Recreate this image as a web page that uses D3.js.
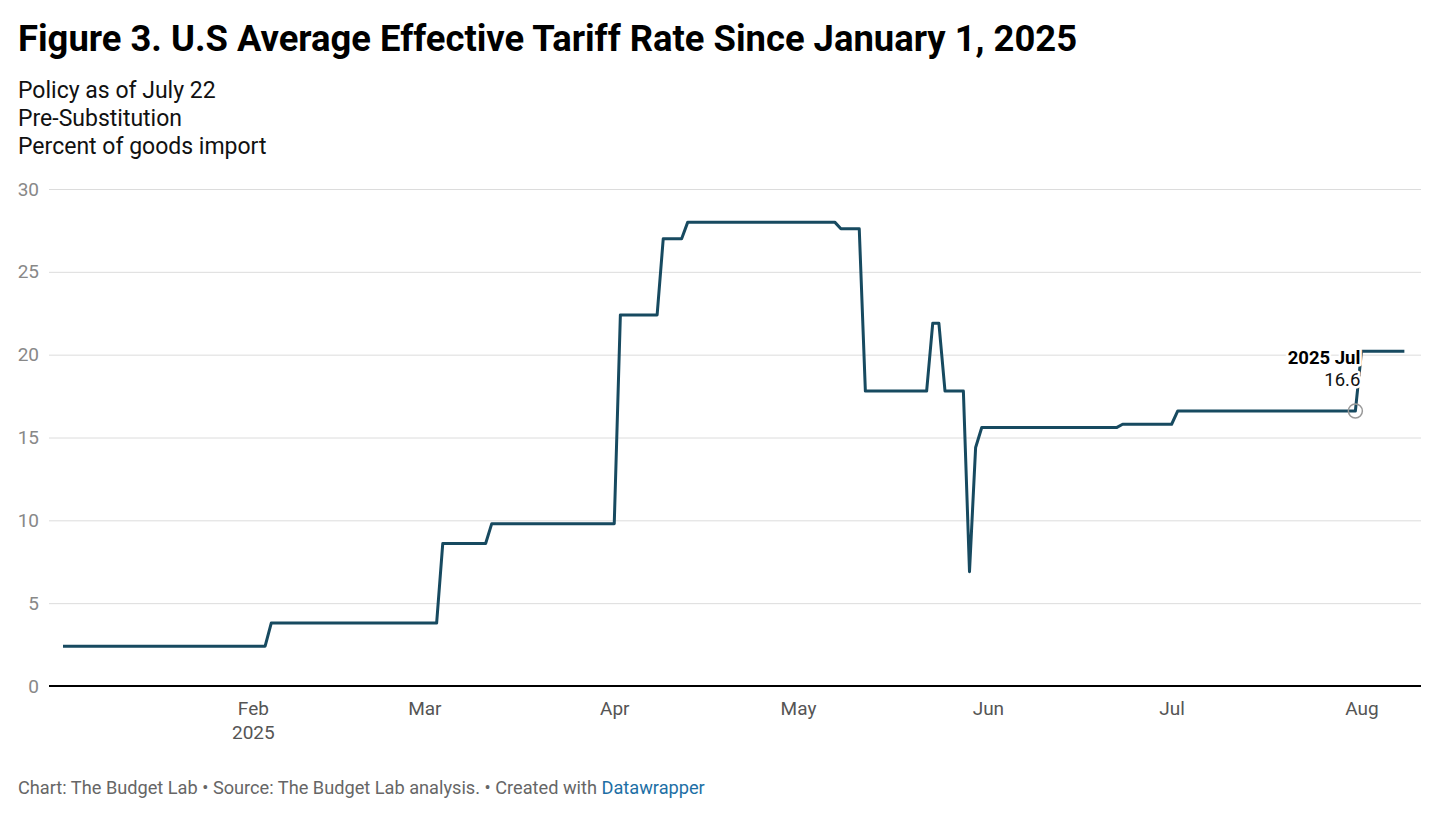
<!DOCTYPE html>
<html>
<head>
<meta charset="utf-8">
<script src="https://cdn.jsdelivr.net/npm/d3@7"></script>
<style>
  body { margin: 0; background: #fff; }
  svg { display: block; font-family: Roboto, "Noto Sans", sans-serif; }
</style>
</head>
<body>
<div id="chart"></div>
<script>
// breakpoints of the daily series (percent of goods imports)
var dates = ["2025-01-01", "2025-02-03", "2025-02-04", "2025-03-03", "2025-03-04", "2025-03-11", "2025-03-12",
  "2025-04-01", "2025-04-02", "2025-04-08", "2025-04-09", "2025-04-12", "2025-04-13", "2025-05-07", "2025-05-08",
  "2025-05-11", "2025-05-12", "2025-05-22", "2025-05-23", "2025-05-24", "2025-05-25", "2025-05-28", "2025-05-29",
  "2025-05-30", "2025-05-31", "2025-06-22", "2025-06-23", "2025-07-01", "2025-07-02", "2025-07-31", "2025-08-01",
  "2025-08-08"];
var rates = [2.4, 2.4, 3.8, 3.8, 8.6, 8.6, 9.8,
  9.8, 22.4, 22.4, 27.0, 27.0, 28.0, 28.0, 27.6,
  27.6, 17.8, 17.8, 21.9, 21.9, 17.8, 17.8, 6.9,
  14.4, 15.6, 15.6, 15.8, 15.8, 16.6, 16.6, 20.2,
  20.2];

var yTicks = [0, 5, 10, 15, 20, 25, 30];
var monthTicks = ["2025-02-01", "2025-03-01", "2025-04-01", "2025-05-01", "2025-06-01", "2025-07-01", "2025-08-01"];

var title = "Figure 3. U.S Average Effective Tariff Rate Since January 1, 2025";
var subtitle = ["Policy as of July 22", "Pre-Substitution", "Percent of goods import"];
var highlight = { date: "2025-07-31", value: 16.6, label: "2025 Jul" };

// canvas
var W = 1440, H = 827;
var plot = { left: 49, right: 1421, top: 189, bottom: 686 };

var parse = d3.utcParse("%Y-%m-%d");
var data = dates.map(function (d, i) { return { date: parse(d), value: rates[i] }; });

var x = d3.scaleUtc()
  .domain([parse("2025-01-01"), parse("2025-08-08")])
  .range([63, 63 + 6.125 * 219]);
var y = d3.scaleLinear().domain([0, 30]).range([plot.bottom, plot.top]);

var svg = d3.select("#chart").append("svg")
  .attr("width", W)
  .attr("height", H);

// header
svg.append("text")
  .attr("x", 18).attr("y", 51)
  .attr("font-size", 36.4).attr("font-weight", 700)
  .attr("fill", "#000")
  .text(title);

svg.selectAll(".sub")
  .data(subtitle)
  .enter().append("text")
  .attr("class", "sub")
  .attr("x", 18)
  .attr("y", function (d, i) { return 98 + i * 28; })
  .attr("font-size", 23)
  .attr("fill", "#111")
  .text(function (d) { return d; });

// y axis + gridlines
var yAxis = svg.append("g")
  .attr("transform", "translate(" + plot.left + ",0)")
  .call(d3.axisLeft(y).tickValues(yTicks).tickSize(-(plot.right - plot.left)).tickPadding(10));
yAxis.select(".domain").remove();
yAxis.selectAll(".tick line").attr("stroke", "#dcdcdc").attr("stroke-width", 1);
yAxis.selectAll(".tick text")
  .attr("font-size", 19).attr("fill", "#888").attr("font-family", "Roboto, sans-serif");

// x axis, month ticks, first one gets the year underneath
var xAxis = svg.append("g")
  .attr("transform", "translate(0," + plot.bottom + ")")
  .call(d3.axisBottom(x).tickValues(monthTicks.map(parse)).tickSize(0).tickPadding(16)
    .tickFormat(d3.utcFormat("%b")));
xAxis.select(".domain").remove();
xAxis.selectAll(".tick text")
  .attr("font-size", 19).attr("fill", "#555").attr("font-family", "Roboto, sans-serif");
xAxis.selectAll(".tick text").filter(function (d, i) { return i === 0; })
  .append("tspan")
  .attr("x", 0).attr("dy", 24)
  .text("2025");

// baseline
svg.append("line")
  .attr("x1", plot.left).attr("x2", plot.right)
  .attr("y1", y(0)).attr("y2", y(0))
  .attr("stroke", "#000").attr("stroke-width", 2);

// the series
var line = d3.line()
  .x(function (d) { return x(d.date); })
  .y(function (d) { return y(d.value); });

svg.append("path")
  .datum(data)
  .attr("d", line)
  .attr("fill", "none")
  .attr("stroke", "#174a60")
  .attr("stroke-width", 3)
  .attr("stroke-linejoin", "round");

// highlighted last July value
var hx = x(parse(highlight.date)), hy = y(highlight.value);
svg.append("circle")
  .attr("cx", hx).attr("cy", hy).attr("r", 7)
  .attr("fill", "none").attr("stroke", "#999").attr("stroke-width", 1.5);

var lab = svg.append("g").attr("text-anchor", "end")
  .attr("font-size", 18.5)
  .attr("stroke", "#fff").attr("stroke-width", 5).attr("paint-order", "stroke")
  .attr("stroke-linejoin", "round");
lab.append("text")
  .attr("x", hx + 5).attr("y", hy - 47)
  .attr("font-weight", 700).attr("fill", "#000")
  .text(highlight.label);
lab.append("text")
  .attr("x", hx + 5).attr("y", hy - 25)
  .attr("fill", "#111")
  .text(d3.format(".1f")(highlight.value));

// footer
var foot = svg.append("text")
  .attr("x", 18).attr("y", 794)
  .attr("font-size", 18.2)
  .attr("fill", "#666");
foot.append("tspan").text("Chart: The Budget Lab \u2022 Source: The Budget Lab analysis. \u2022 Created with ");
foot.append("tspan").attr("fill", "#1d6fa5").text("Datawrapper");
</script>
</body>
</html>
